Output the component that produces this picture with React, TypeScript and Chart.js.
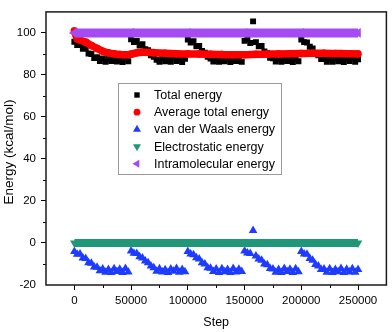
import React, { useEffect, useRef } from 'react';
import { Chart, registerables } from 'chart.js';

Chart.register(...registerables);

// ---------- data ----------
const steps = [
  0, 2500, 5000, 7500, 10000, 12500, 15000, 17500, 20000, 22500,
  25000, 27500, 30000, 32500, 35000, 37500, 40000, 42500, 45000, 47500,
  50000, 52500, 55000, 57500, 60000, 62500, 65000, 67500, 70000, 72500,
  75000, 77500, 80000, 82500, 85000, 87500, 90000, 92500, 95000, 97500,
  100000, 102500, 105000, 107500, 110000, 112500, 115000, 117500, 120000, 122500,
  125000, 127500, 130000, 132500, 135000, 137500, 140000, 142500, 145000, 147500,
  150000, 152500, 155000, 157500, 160000, 162500, 165000, 167500, 170000, 172500,
  175000, 177500, 180000, 182500, 185000, 187500, 190000, 192500, 195000, 197500,
  200000, 202500, 205000, 207500, 210000, 212500, 215000, 217500, 220000, 222500,
  225000, 227500, 230000, 232500, 235000, 237500, 240000, 242500, 245000, 247500,
  250000,
];

const totalEnergy = [
  95.8, 94.2, 95.0, 92.4, 92.8, 90.2, 90.0, 88.0, 88.4, 86.6,
  87.8, 86.2, 87.6, 86.6, 87.9, 86.4, 87.3, 86.1, 87.7, 86.5,
  97.0, 95.6, 96.2, 94.0, 94.6, 92.2, 91.8, 89.4, 88.6, 87.2,
  86.3, 87.8, 86.5, 87.6, 86.2, 87.9, 86.6, 87.4, 86.1, 87.7,
  96.8, 95.4, 96.0, 93.6, 93.8, 91.4, 90.6, 88.6, 87.8, 86.4,
  87.7, 86.3, 87.9, 86.5, 87.4, 86.1, 87.8, 86.6, 87.3, 86.2,
  96.2, 97.0, 95.2, 105.5, 95.6, 93.6, 93.8, 91.2, 90.4, 88.2,
  87.9, 86.4, 87.6, 86.2, 87.8, 86.6, 87.3, 86.1, 87.7, 86.5,
  96.8, 95.6, 95.4, 93.4, 92.6, 90.2, 89.4, 87.6, 87.9, 86.3,
  87.6, 86.2, 87.8, 86.5, 87.4, 86.1, 87.7, 86.6, 87.9, 86.3,
  87.5,
];

const vdwEnergy = [
  -4.0, -5.4, -5.2, -7.2, -7.4, -9.4, -9.6, -11.4, -11.6, -13.2,
  -12.4, -13.9, -12.6, -14.1, -12.3, -13.6, -12.5, -14.0, -12.2, -13.8,
  -3.8, -4.9, -5.0, -6.6, -7.2, -8.6, -9.4, -11.0, -11.8, -13.4,
  -12.3, -13.8, -12.7, -14.1, -12.4, -13.5, -12.2, -13.9, -12.6, -13.7,
  -4.0, -5.2, -5.6, -7.0, -7.6, -9.4, -10.0, -11.8, -12.0, -13.6,
  -12.4, -14.0, -12.3, -13.7, -12.6, -14.1, -12.2, -13.8, -12.5, -13.6,
  -3.8, -4.8, -5.0, 6.0, -6.2, -7.6, -8.2, -10.0, -10.4, -12.2,
  -12.4, -13.9, -12.6, -14.0, -12.2, -13.6, -12.5, -14.1, -12.3, -13.7,
  -4.0, -5.2, -5.4, -7.4, -8.2, -10.2, -11.0, -12.6, -12.4, -13.9,
  -12.3, -14.0, -12.6, -13.7, -12.2, -14.1, -12.5, -13.8, -12.3, -13.9,
  -12.6,
];

const avgSteps = [
  0, 2500, 5000, 10000, 15000, 20000, 25000, 30000, 35000, 40000, 45000,
  50000, 55000, 60000, 70000, 80000, 90000, 100000, 110000, 120000, 130000,
  140000, 150000, 160000, 170000, 180000, 190000, 200000, 210000, 220000,
  230000, 240000, 250000,
];
const avgEnergy = [
  101, 97.2, 96.6, 95.6, 94.0, 92.6, 91.3, 90.5, 90.0, 89.7, 89.6,
  89.9, 90.5, 90.8, 90.6, 90.3, 90.1, 90.0, 90.0, 89.8, 89.7,
  89.6, 89.6, 89.8, 89.9, 90.0, 90.1, 90.2, 90.3, 90.3,
  90.2, 90.1, 90.0,
];

const elecSteps = [0, 50000, 100000, 150000, 200000, 250000];
const elecEnergy = [0, 0, 0, 0, 0, 0];

const intraSteps = [0, 50000, 100000, 150000, 200000, 250000];
const intraEnergy = [100, 100, 100, 100, 100, 100];

const seriesLabels = [
  'Total energy',
  'Average total energy',
  'van der Waals energy',
  'Electrostatic energy',
  'Intramolecular energy',
];

const xTitle = 'Step';
const yTitle = 'Energy (kcal/mol)';

// ---------- styling ----------
const FONT = '"Liberation Sans", Arial, sans-serif';
const C_BLACK = '#000000';
const C_RED = '#ff0000';
const C_BLUE = '#1e3cff';
const C_GREEN = '#21977a';
const C_PURPLE = '#a64bf4';

const toXY = (xs: number[], ys: number[]) => xs.map((x, i) => ({ x, y: ys[i] }));

function drawMarker(ctx: CanvasRenderingContext2D, kind: string, x: number, y: number, r: number, rot: number, color: string) {
  ctx.save();
  ctx.fillStyle = color;
  ctx.beginPath();
  if (kind === 'rect') {
    ctx.rect(x - r, y - r, 2 * r, 2 * r);
  } else if (kind === 'circle') {
    ctx.arc(x, y, r, 0, Math.PI * 2);
  } else {
    for (let k = 0; k < 3; k++) {
      const a = (rot * Math.PI) / 180 + (k * 2 * Math.PI) / 3;
      const px = x + Math.sin(a) * r;
      const py = y - Math.cos(a) * r;
      if (k === 0) ctx.moveTo(px, py);
      else ctx.lineTo(px, py);
    }
    ctx.closePath();
  }
  ctx.fill();
  ctx.restore();
}

const decorPlugin = {
  id: 'decor',
  afterDraw(chart: any) {
    const { ctx, chartArea: a, scales } = chart;
    ctx.save();
    // minor ticks
    ctx.strokeStyle = '#000';
    ctx.lineWidth = 1;
    const xs = scales.x;
    for (const t of xs.ticks) {
      if (t.value % 50000 !== 0 && t.value > xs.min && t.value < xs.max) {
        const px = Math.round(xs.getPixelForValue(t.value)) + 0.5;
        ctx.beginPath();
        ctx.moveTo(px, a.bottom);
        ctx.lineTo(px, a.bottom + 3);
        ctx.stroke();
      }
    }
    const ys = scales.y;
    for (const t of ys.ticks) {
      if (t.value % 20 !== 0 && t.value > ys.min && t.value < ys.max) {
        const py = Math.round(ys.getPixelForValue(t.value)) + 0.5;
        ctx.beginPath();
        ctx.moveTo(a.left, py);
        ctx.lineTo(a.left - 3, py);
        ctx.stroke();
      }
    }
    // frame
    ctx.strokeStyle = '#1a1a1a';
    ctx.lineWidth = 1.5;
    ctx.strokeRect(a.left, a.top, a.right - a.left, a.bottom - a.top);

    // y title
    ctx.save();
    ctx.translate(9, 152);
    ctx.rotate(-Math.PI / 2);
    ctx.fillStyle = '#000';
    ctx.font = `13.5px ${FONT}`;
    ctx.textAlign = 'center';
    ctx.textBaseline = 'middle';
    ctx.fillText(yTitle, 0, 0);
    ctx.restore();

    // legend
    const lx = 118, ly = 83, lw = 163, lh = 91;
    ctx.fillStyle = '#ffffff';
    ctx.fillRect(lx, ly, lw, lh);
    ctx.strokeStyle = '#9a9a9a';
    ctx.lineWidth = 1;
    ctx.strokeRect(lx + 0.5, ly + 0.5, lw, lh);
    const markers = [
      { kind: 'rect', r: 2.7, rot: 0, color: C_BLACK },
      { kind: 'circle', r: 3.4, rot: 0, color: C_RED },
      { kind: 'triangle', r: 4.6, rot: 0, color: C_BLUE },
      { kind: 'triangle', r: 4.6, rot: 180, color: C_GREEN },
      { kind: 'triangle', r: 4.6, rot: -90, color: C_PURPLE },
    ];
    ctx.font = `12.5px ${FONT}`;
    ctx.textAlign = 'left';
    ctx.textBaseline = 'middle';
    seriesLabels.forEach((lab, i) => {
      const yy = 95 + i * 17.2;
      const m = markers[i];
      drawMarker(ctx, m.kind, 137, yy, m.r, m.rot, m.color);
      ctx.fillStyle = '#000';
      ctx.fillText(lab, 154, yy + 0.5);
    });
    ctx.restore();
  },
};

export default function App() {
  const ref = useRef<HTMLCanvasElement>(null);
  useEffect(() => {
    document.body.style.margin = '0';
    Chart.defaults.font.family = FONT;
    const canvas = ref.current!;
    const chart = new Chart(canvas, {
      type: 'scatter',
      data: {
        datasets: [
          {
            label: seriesLabels[0],
            data: toXY(steps, totalEnergy),
            showLine: false,
            pointStyle: 'rect',
            pointRadius: 4.2,
            pointBorderWidth: 0,
            pointBackgroundColor: C_BLACK,
            order: 5,
          },
          {
            label: seriesLabels[1],
            data: toXY(avgSteps, avgEnergy),
            showLine: true,
            borderColor: C_RED,
            borderWidth: 7.5,
            cubicInterpolationMode: 'monotone',
            pointStyle: 'circle',
            pointRadius: 3.8,
            pointBorderWidth: 0,
            pointBackgroundColor: C_RED,
            order: 4,
          },
          {
            label: seriesLabels[2],
            data: toXY(steps, vdwEnergy),
            showLine: false,
            pointStyle: 'triangle',
            pointRadius: 5,
            pointBorderWidth: 0,
            pointBackgroundColor: C_BLUE,
            order: 3,
          },
          {
            label: seriesLabels[3],
            data: toXY(elecSteps, elecEnergy),
            showLine: true,
            borderColor: C_GREEN,
            borderWidth: 8,
            pointStyle: 'triangle',
            pointRotation: 180,
            pointRadius: 5,
            pointBorderWidth: 0,
            pointBackgroundColor: C_GREEN,
            order: 2,
          },
          {
            label: seriesLabels[4],
            data: toXY(intraSteps, intraEnergy),
            showLine: true,
            borderColor: C_PURPLE,
            borderWidth: 9,
            pointStyle: 'triangle',
            pointRotation: -90,
            pointRadius: 5.6,
            pointBorderWidth: 0,
            pointBackgroundColor: C_PURPLE,
            order: 1,
          },
        ],
      } as any,
      options: {
        responsive: false,
        animation: false,
        devicePixelRatio: 1,
        events: [],
        layout: { padding: { left: 0, right: 2, top: 2, bottom: 0 } },
        plugins: {
          legend: { display: false },
          tooltip: { enabled: false },
        },
        scales: {
          x: {
            type: 'linear',
            min: -25000,
            max: 275000,
            afterFit: (s: any) => {
              s.height = 47;
            },
            ticks: {
              stepSize: 25000,
              autoSkip: false,
              maxRotation: 0,
              padding: 4,
              color: '#000',
              font: { size: 11.5, family: FONT },
              callback: (v: any) => (Number(v) % 50000 === 0 && v >= 0 && v <= 250000 ? String(v) : ''),
            },
            grid: {
              drawOnChartArea: false,
              drawTicks: true,
              tickLength: 5,
              tickWidth: 1,
              tickColor: (c: any) =>
                c.tick && c.tick.value % 50000 === 0 && c.tick.value >= 0 && c.tick.value <= 250000 ? '#000' : 'rgba(0,0,0,0)',
            },
            border: { display: false },
            title: {
              display: true,
              text: xTitle,
              color: '#000',
              font: { size: 12.5, family: FONT },
              padding: { top: 0, bottom: 1.5 },
            },
          },
          y: {
            type: 'linear',
            min: -20,
            max: 110,
            afterFit: (s: any) => {
              s.width = 46;
            },
            ticks: {
              stepSize: 10,
              autoSkip: false,
              padding: 5,
              color: '#000',
              font: { size: 11.5, family: FONT },
              callback: (v: any) => (Number(v) % 20 === 0 && v <= 100 ? String(v) : ''),
            },
            grid: {
              drawOnChartArea: false,
              drawTicks: true,
              tickLength: 5,
              tickWidth: 1,
              tickColor: (c: any) =>
                c.tick && c.tick.value % 20 === 0 && c.tick.value > -20 && c.tick.value <= 100 ? '#000' : 'rgba(0,0,0,0)',
            },
            border: { display: false },
            title: { display: false },
          },
        },
      } as any,
      plugins: [decorPlugin],
    });
    return () => chart.destroy();
  }, []);
  return (
    <div style={{ width: 392, height: 332 }}>
      <canvas ref={ref} width={392} height={332} style={{ display: 'block', width: 392, height: 332 }} />
    </div>
  );
}
